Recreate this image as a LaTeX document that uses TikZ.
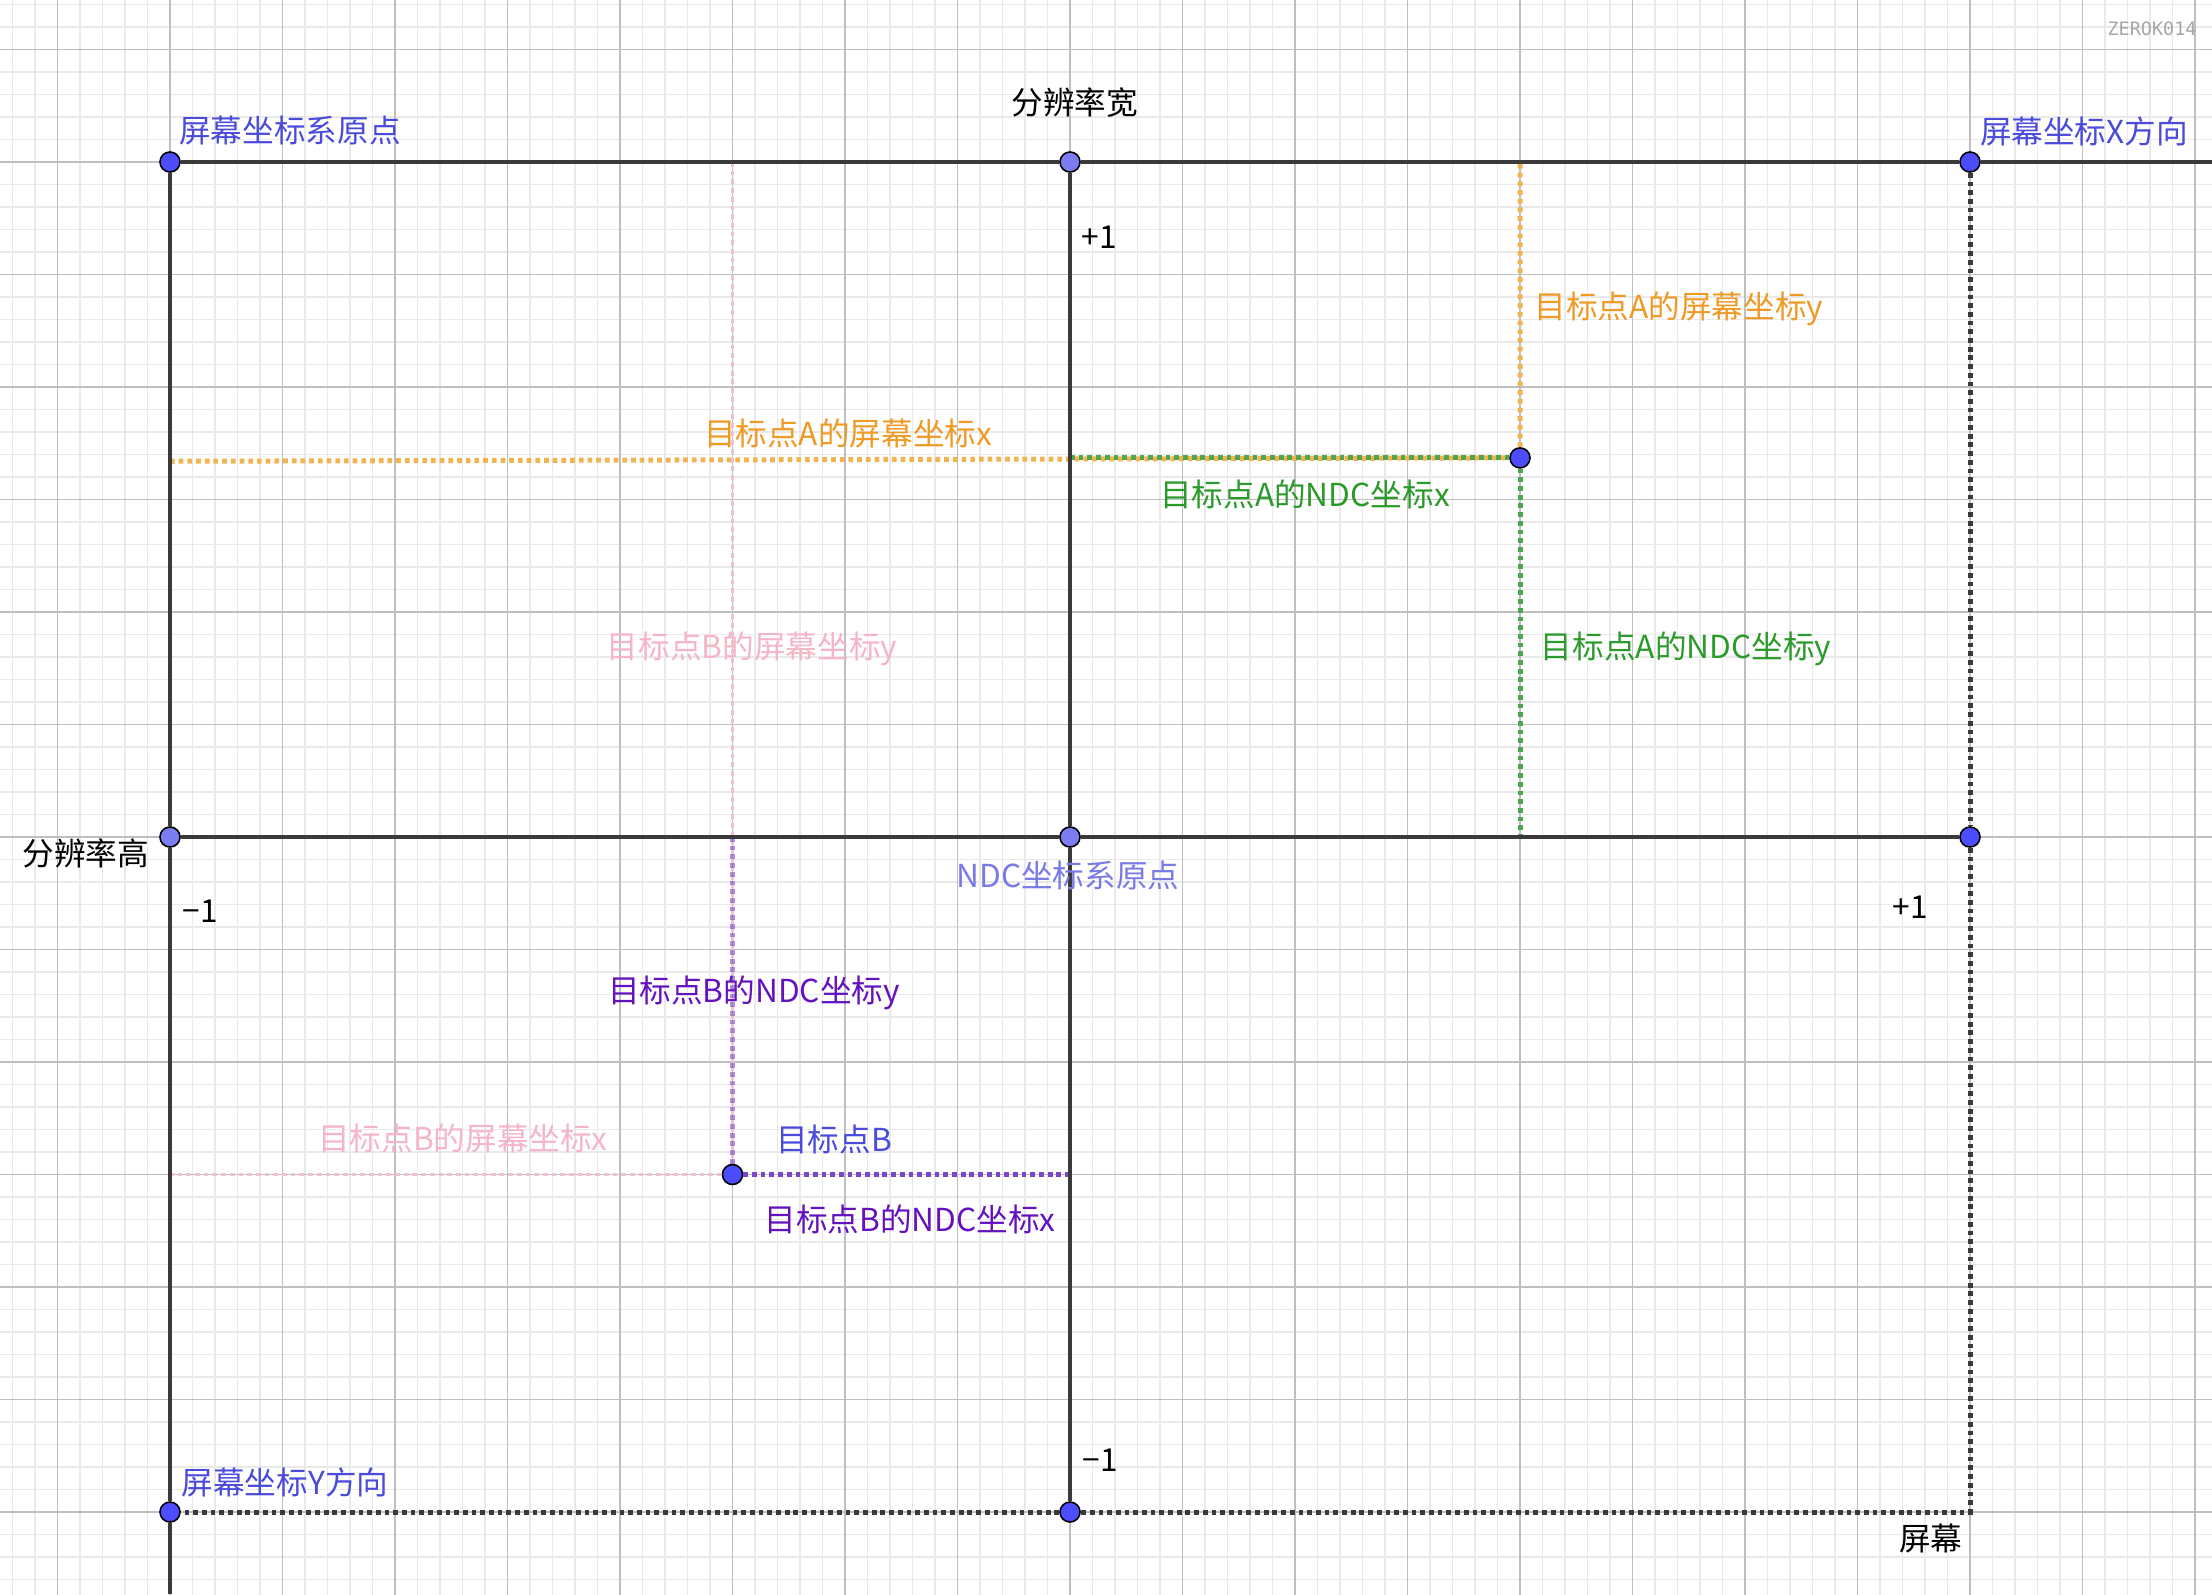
\documentclass[tikz,border=0pt]{standalone}
\usepackage{fontspec}
\setmainfont{Noto Sans CJK SC}
\newfontfamily\wmfont{DejaVu Sans Mono}
\definecolor{gridmin}{HTML}{E9E9E9}
\definecolor{gridmaj}{HTML}{BFBFBF}
\definecolor{axisc}{HTML}{3A3A3A}
\definecolor{ptdark}{HTML}{4D4DFF}
\definecolor{ptlight}{HTML}{7D7DF2}
\definecolor{lblue}{HTML}{4B4BDB}
\definecolor{ndcblue}{HTML}{7A7AE6}
\definecolor{orng}{HTML}{F09A26}
\definecolor{orngln}{HTML}{F2B452}
\definecolor{grn}{HTML}{2A9A2A}
\definecolor{grnln}{HTML}{4EA64E}
\definecolor{pnk}{HTML}{F5B5C6}
\definecolor{pnkln}{HTML}{F0C2CF}
\definecolor{purp}{HTML}{6412BE}
\definecolor{purpln}{HTML}{7A48C6}
\tikzset{
  dot/.style={circle,draw=black,line width=0.6pt,inner sep=0pt,minimum size=7.6pt},
  axisln/.style={axisc,line width=1.7pt},
  dotln/.style={line width=1.9pt,dash pattern=on 1.8pt off 1.5pt},
  lbl/.style={font=\fontsize{12}{14}\selectfont,inner sep=0pt}
}
\begin{document}
\begin{tikzpicture}[x=1.5cm,y=1.5cm]
  \useasboundingbox (-1.5111,-12.7289) rectangle (18.1511,1.44);
  \begin{scope}
    \clip (-1.5111,-12.7289) rectangle (18.1511,1.44);
    \draw[gridmin,line width=0.4pt,step=0.2] (-1.6,-12.8) grid (18.2,1.6);
    \draw[gridmaj,line width=0.6pt,step=1] (-1.6,-12.8) grid (18.2,1.6);
  \end{scope}
  \foreach \n/\x/\y/\c in {o/0/0/ptdark, wd/8/0/ptlight, xd/16/0/ptdark,
    ht/0/-6/ptlight, ndc/8/-6/ptlight, rt/16/-6/ptdark, yd/0/-12/ptdark,
    bt/8/-12/ptdark, ptA/12/-2.63/ptdark, ptB/5/-9/ptdark}
    \node[dot,fill=\c] (\n) at (\x,\y) {};
  \coordinate (topend) at (18.1511,0);
  \coordinate (leftend) at (0,-12.7289);
  \coordinate (corner) at (16,-12);
  \coordinate (Ax) at (0,-2.66);
  \coordinate (Atop) at (12,0);
  \coordinate (Aaxis) at (8,-2.63);
  \coordinate (Amid) at (12,-6);
  \coordinate (Btop) at (5,0);
  \coordinate (Bleft) at (0,-9);
  \coordinate (Bmid) at (5,-6);
  \coordinate (Baxis) at (8,-9);
  % screen coords of A and B
  \draw[dotln,orngln] (Ax) -- (ptA) -- (Atop);
  \draw[dotln,pnkln,line width=1.4pt] (Btop) -- (ptB) -- (Bleft);
  % NDC coords of A and B
  \draw[dotln,grnln] (Aaxis) -- (ptA) -- (Amid);
  \draw[dotln,purpln,opacity=0.6] (Bmid) -- (ptB);
  \draw[dotln,purpln] (ptB) -- (Baxis);
  % screen edges
  \draw[dotln,axisc] (xd) -- (rt) -- (corner) -- (bt) -- (yd);
  \draw[axisln] (o) -- (wd) -- (xd) -- (topend);
  \draw[axisln] (o) -- (ht) -- (yd) -- (leftend);
  \draw[axisln] (ht) -- (ndc) -- (rt);
  \draw[axisln] (wd) -- (ndc) -- (bt);
  \foreach \n/\x/\y/\c/\t in {
    lO/1.067/0.28/lblue/屏幕坐标系原点, lW/8.044/0.524/black/分辨率宽,
    lX/17.013/0.276/lblue/屏幕坐标X方向, pTop/8.258/-0.667/black/+1,
    lAsy/13.413/-1.307/orng/目标点A的屏幕坐标y, lAsx/6.027/-2.409/orng/目标点A的屏幕坐标x,
    lAnx/10.089/-2.951/grn/目标点A的NDC坐标x, lBsy/5.173/-4.329/pnk/目标点B的屏幕坐标y,
    lAny/13.476/-4.329/grn/目标点A的NDC坐标y, lH/-0.747/-6.142/black/分辨率高,
    lN/7.982/-6.338/ndcblue/NDC坐标系原点, mLeft/0.267/-6.658/black/−1,
    pRight/15.467/-6.622/black/+1, lBny/5.191/-7.387/purp/目标点B的NDC坐标y,
    lBsx/2.604/-8.676/pnk/目标点B的屏幕坐标x, lB/5.902/-8.684/lblue/目标点B,
    lBnx/6.578/-9.396/purp/目标点B的NDC坐标x, mBot/8.267/-11.538/black/−1,
    lY/1.022/-11.733/lblue/屏幕坐标Y方向, lS/15.653/-12.231/black/屏幕}
    \node[lbl,text=\c] (\n) at (\x,\y) {\t};
  \node[inner sep=0pt,text=black!35,font=\wmfont\fontsize{7}{8}\selectfont] (wm) at (17.618,1.182) {ZEROK014};
\end{tikzpicture}
\end{document}
